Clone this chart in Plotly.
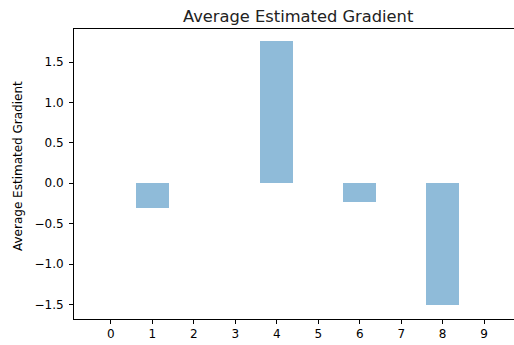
import plotly.graph_objects as go

categories = [0, 1, 2, 3, 4, 5, 6, 7, 8, 9]
values = [0.0, -0.30, 0.0, 0.0, 1.757, 0.0, -0.23, 0.0, -1.51, 0.0]
ytick_vals = [-1.5, -1.0, -0.5, 0.0, 0.5, 1.0, 1.5]
ytick_text = ["\u22121.5", "\u22121.0", "\u22120.5", "0.0", "0.5", "1.0", "1.5"]
title_text = "Average Estimated Gradient"
ylabel_text = "Average Estimated Gradient"

W, H = 514, 345
L, T, B = 74, 29, 26

fig = go.Figure()
fig.add_trace(go.Bar(
    x=categories, y=values, width=0.8,
    marker=dict(color="rgba(31,119,180,0.5)", line=dict(width=0)),
))

font = "DejaVu Sans"
fig.update_layout(
    width=W, height=H,
    margin=dict(l=L, r=0, t=T, b=B, autoexpand=False),
    plot_bgcolor="white", paper_bgcolor="white",
    showlegend=False,
    font=dict(family=font, size=12, color="#000"),
    bargap=0,
)
fig.update_xaxes(
    range=[-0.89, 9.72], tickvals=categories, ticktext=[str(c) for c in categories],
    showgrid=False, zeroline=False, showline=True, linecolor="#000", linewidth=1,
    mirror=True, ticks="outside", ticklen=4, tickcolor="#000", tickwidth=1,
    tickfont=dict(size=12, family=font, color="#000"), automargin=False,
)
fig.update_yaxes(
    range=[-1.68, 1.91], tickvals=ytick_vals, ticktext=ytick_text,
    showgrid=False, zeroline=False, showline=True, linecolor="#000", linewidth=1,
    mirror=False, ticks="outside", ticklen=4, tickcolor="#000", tickwidth=1,
    tickfont=dict(size=12, family=font, color="#000"), automargin=False,
    ticklabelstandoff=3,
)
fig.add_annotation(
    text=title_text, xref="x", yref="paper", x=4.5, y=1, xanchor="center",
    yanchor="bottom", yshift=1, showarrow=False,
    font=dict(size=16.3, family=font, color="#222"),
)
fig.add_annotation(
    text=ylabel_text, xref="paper", yref="paper", x=(18 - L) / (W - L),
    y=(H - B - 166) / (H - B - T), xanchor="center", yanchor="middle",
    textangle=-90, showarrow=False,
    font=dict(size=12, family=font, color="#000"),
)
fig.write_html(
    "out.html",
    config={"displayModeBar": False},
    post_script="document.body.style.margin='0';document.body.style.overflow='hidden';",
)
